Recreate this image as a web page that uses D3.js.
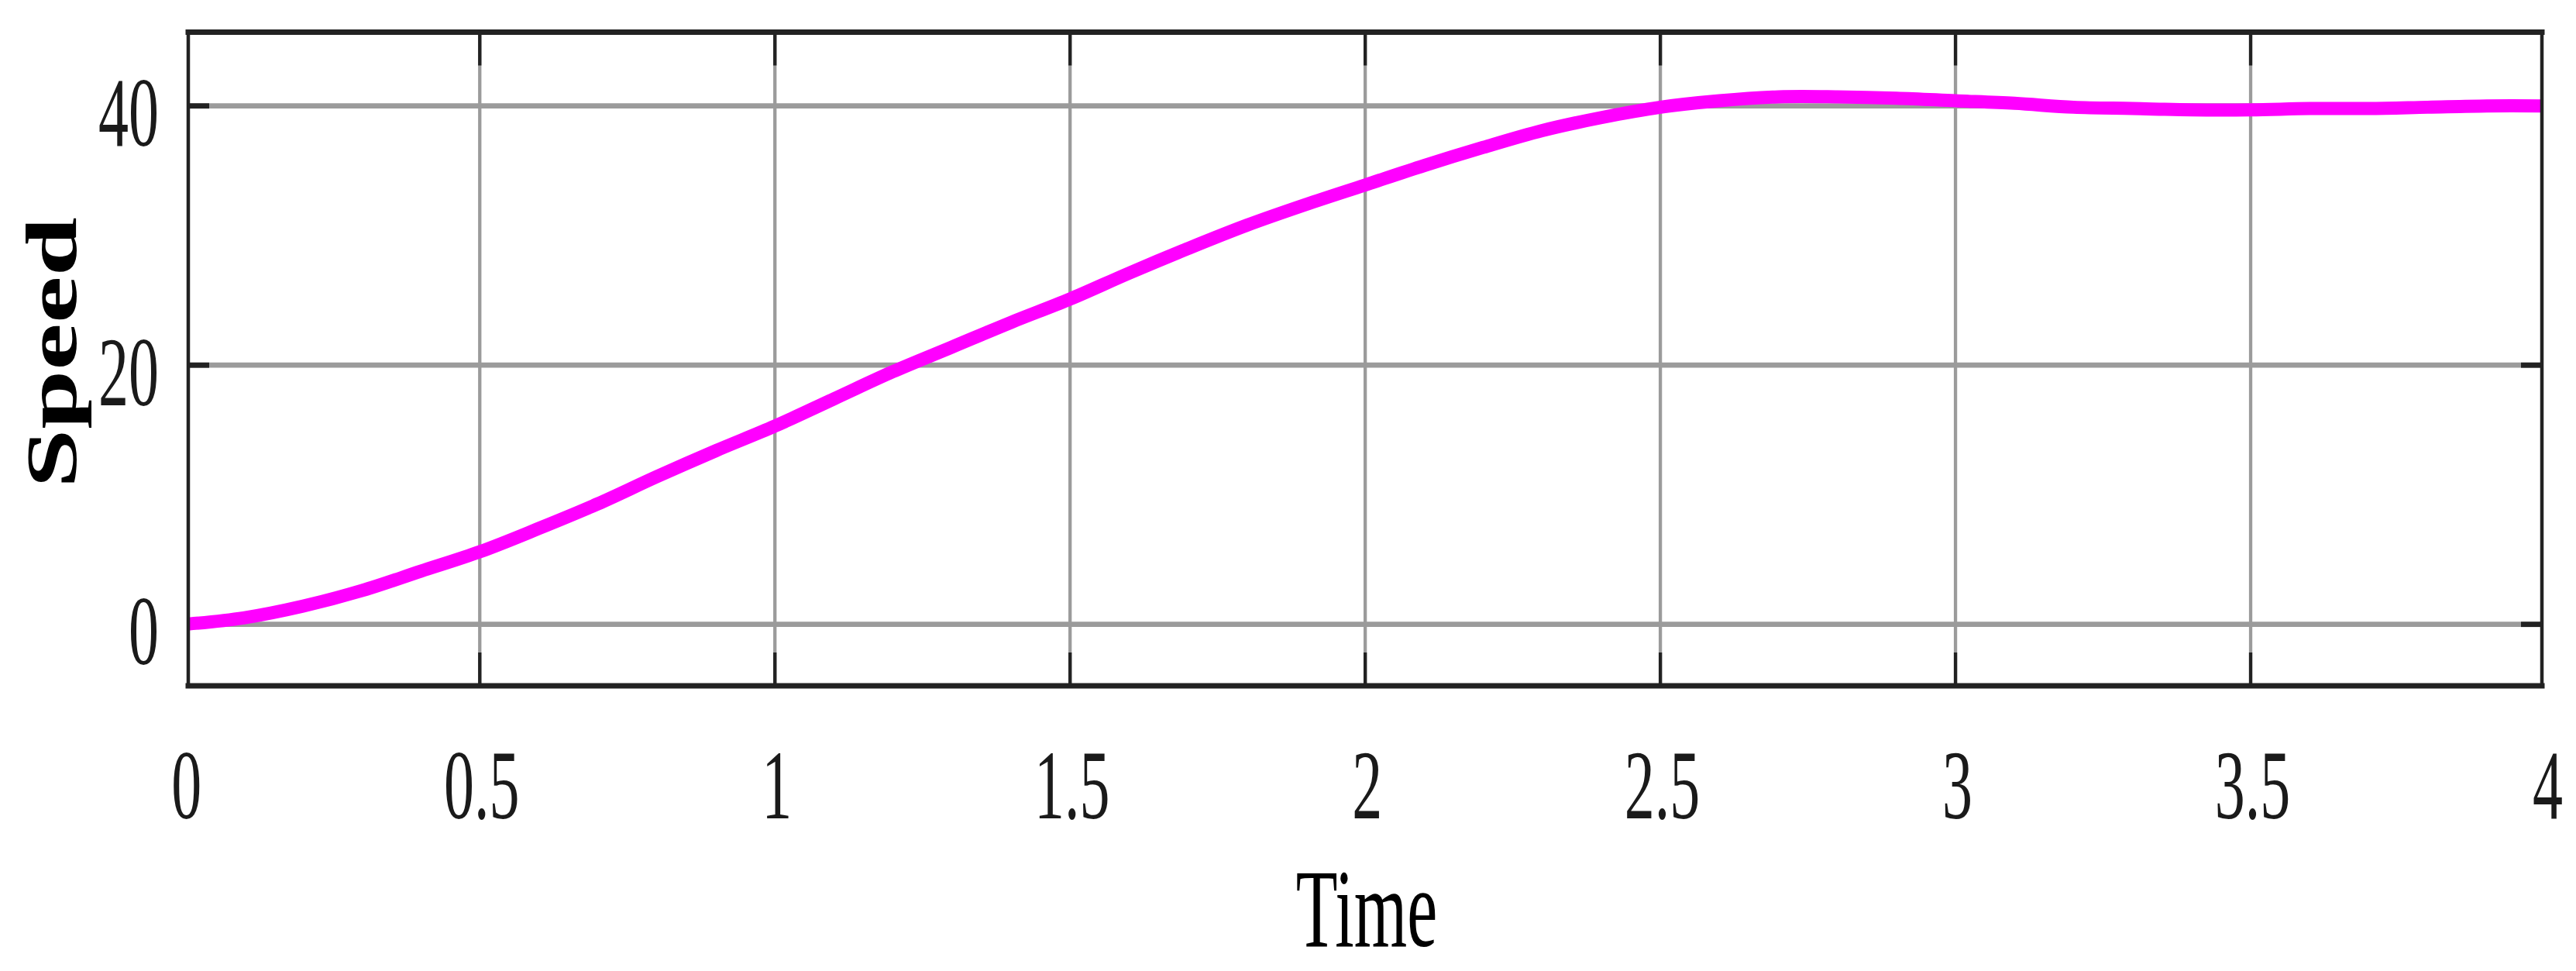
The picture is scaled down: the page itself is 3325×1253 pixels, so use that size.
<!DOCTYPE html>
<html>
<head>
<meta charset="utf-8">
<script src="https://cdn.jsdelivr.net/npm/d3@7"></script>
<style>
  html, body { margin: 0; padding: 0; background: #ffffff; }
  svg { display: block; }
</style>
</head>
<body>
<svg id="chart" width="3325" height="1253"></svg>
<script>
// ---- data ----
const time  = [0.0,0.1,0.2,0.3,0.4,0.5,0.6,0.7,0.8,0.9,1.0,1.1,1.2,1.3,1.4,1.5,1.6,1.7,1.8,1.9,2.0,
               2.1,2.2,2.3,2.4,2.5,2.6,2.7,2.8,2.9,3.0,3.1,3.2,3.3,3.4,3.5,3.6,3.7,3.8,3.9,4.0];
const speed = [0.0,0.5,1.4,2.6,4.1,5.6,7.4,9.3,11.4,13.4,15.3,17.4,19.5,21.4,23.3,25.1,27.1,29.0,30.8,32.4,33.9,
               35.4,36.8,38.1,39.1,39.9,40.4,40.7,40.7,40.6,40.4,40.2,39.9,39.8,39.7,39.7,39.8,39.8,39.9,40.0,40.0];
const xTicks = [0,0.5,1,1.5,2,2.5,3,3.5,4];
const xTickLabels = ["0","0.5","1","1.5","2","2.5","3","3.5","4"];
const yTicks = [0,20,40];
const yTickLabels = ["0","20","40"];
const xLabel = "Time";
const yLabel = "Speed";

// ---- layout ----
const svg = d3.select("#chart");
const x = d3.scaleLinear().domain([0,4]).range([238.3, 3286]);
const y = d3.scaleLinear().domain([0,40]).range([805.7, 136.7]);
const frame = {left: 243, right: 3281, top: 41.5, bottom: 885};
const stretch = 1.64;       // vertical stretch of glyphs in the reference
const gridColor = "#9b9b9b";
const frameColor = "#222222";

svg.append("rect").attr("x",0).attr("y",0).attr("width",3325).attr("height",1253).attr("fill","#fff");

// clip
svg.append("defs").append("clipPath").attr("id","plotclip")
  .append("rect").attr("x",frame.left).attr("y",frame.top)
  .attr("width",frame.right-frame.left).attr("height",frame.bottom-frame.top);

// gridlines
const grid = svg.append("g").attr("clip-path","url(#plotclip)");
grid.selectAll("line.vg").data(xTicks.filter(d => d > 0 && d < 4)).join("line")
  .attr("class","vg")
  .attr("x1", d => x(d)).attr("x2", d => x(d))
  .attr("y1", frame.top).attr("y2", frame.bottom)
  .attr("stroke", gridColor).attr("stroke-width", 4.3);
grid.selectAll("line.hg").data(yTicks).join("line")
  .attr("class","hg")
  .attr("x1", frame.left).attr("x2", frame.right)
  .attr("y1", d => y(d)).attr("y2", d => y(d))
  .attr("stroke", gridColor).attr("stroke-width", 6.8);

// inward tick marks (dark)
const ticks = svg.append("g");
const xt = xTicks.filter(d => d > 0 && d < 4);
ticks.selectAll("line.tt").data(xt).join("line")
  .attr("x1", d => x(d)).attr("x2", d => x(d))
  .attr("y1", frame.top).attr("y2", frame.top + 43)
  .attr("stroke", frameColor).attr("stroke-width", 4.3);
ticks.selectAll("line.bt").data(xt).join("line")
  .attr("x1", d => x(d)).attr("x2", d => x(d))
  .attr("y1", frame.bottom).attr("y2", frame.bottom - 43)
  .attr("stroke", frameColor).attr("stroke-width", 4.3);
ticks.selectAll("line.lt").data(yTicks).join("line")
  .attr("x1", frame.left).attr("x2", frame.left + 27)
  .attr("y1", d => y(d)).attr("y2", d => y(d))
  .attr("stroke", frameColor).attr("stroke-width", 6.8);
ticks.selectAll("line.rt").data(yTicks).join("line")
  .attr("x1", frame.right).attr("x2", frame.right - 27)
  .attr("y1", d => y(d)).attr("y2", d => y(d))
  .attr("stroke", frameColor).attr("stroke-width", 6.8);

// the speed curve
const pts = time.map((t,i) => ({t, v: speed[i]}));
const line = d3.line().x(d => x(d.t)).y(d => y(d.v)).curve(d3.curveCatmullRom.alpha(0.5));
svg.append("path").datum(pts)
  .attr("clip-path","url(#plotclip)")
  .attr("d", line)
  .attr("fill","none")
  .attr("stroke","#ff00ff")
  .attr("stroke-width", 17)
  .attr("stroke-linejoin","round");

// frame
svg.append("line").attr("x1",frame.left).attr("x2",frame.right).attr("y1",frame.top).attr("y2",frame.top)
  .attr("stroke",frameColor).attr("stroke-width",7).attr("stroke-linecap","square");
svg.append("line").attr("x1",frame.left).attr("x2",frame.right).attr("y1",frame.bottom).attr("y2",frame.bottom)
  .attr("stroke",frameColor).attr("stroke-width",7).attr("stroke-linecap","square");
svg.append("line").attr("x1",frame.left).attr("x2",frame.left).attr("y1",frame.top).attr("y2",frame.bottom)
  .attr("stroke",frameColor).attr("stroke-width",4.5);
svg.append("line").attr("x1",frame.right).attr("x2",frame.right).attr("y1",frame.top).attr("y2",frame.bottom)
  .attr("stroke",frameColor).attr("stroke-width",4.5);

// tick labels via d3 axes
const fontFam = "'Liberation Serif', 'Times New Roman', serif";
const xAxis = d3.axisBottom(x).tickValues(xTicks).tickFormat((d,i) => xTickLabels[i]).tickSize(0);
const gx = svg.append("g").call(xAxis);
gx.select(".domain").remove();
gx.selectAll("text")
  .attr("y", null).attr("dy", null)
  .attr("transform", `translate(2,1056) scale(1,${stretch})`)
  .attr("font-family", fontFam).attr("font-size", 78).attr("fill", "#1a1a1a");

const yAxis = d3.axisLeft(y).tickValues(yTicks).tickFormat((d,i) => yTickLabels[i]).tickSize(0);
const gy = svg.append("g").call(yAxis);
gy.select(".domain").remove();
gy.selectAll("text")
  .attr("x", null).attr("dy", null)
  .attr("text-anchor","end")
  .attr("transform", `translate(205,51) scale(1,${stretch})`)
  .attr("font-family", fontFam).attr("font-size", 78).attr("fill", "#1a1a1a");

// axis titles
svg.append("text")
  .attr("transform", `translate(${(frame.left+frame.right)/2 + 2},1221) scale(1,1.63)`)
  .attr("text-anchor","middle")
  .attr("font-family", fontFam).attr("font-size", 88).attr("fill","#000")
  .text(xLabel);

svg.append("text")
  .attr("transform", `translate(98,455) rotate(-90) scale(1.47,1)`)
  .attr("text-anchor","middle")
  .attr("font-family", fontFam).attr("font-weight","bold").attr("font-size", 93).attr("fill","#000")
  .text(yLabel);
</script>
</body>
</html>
